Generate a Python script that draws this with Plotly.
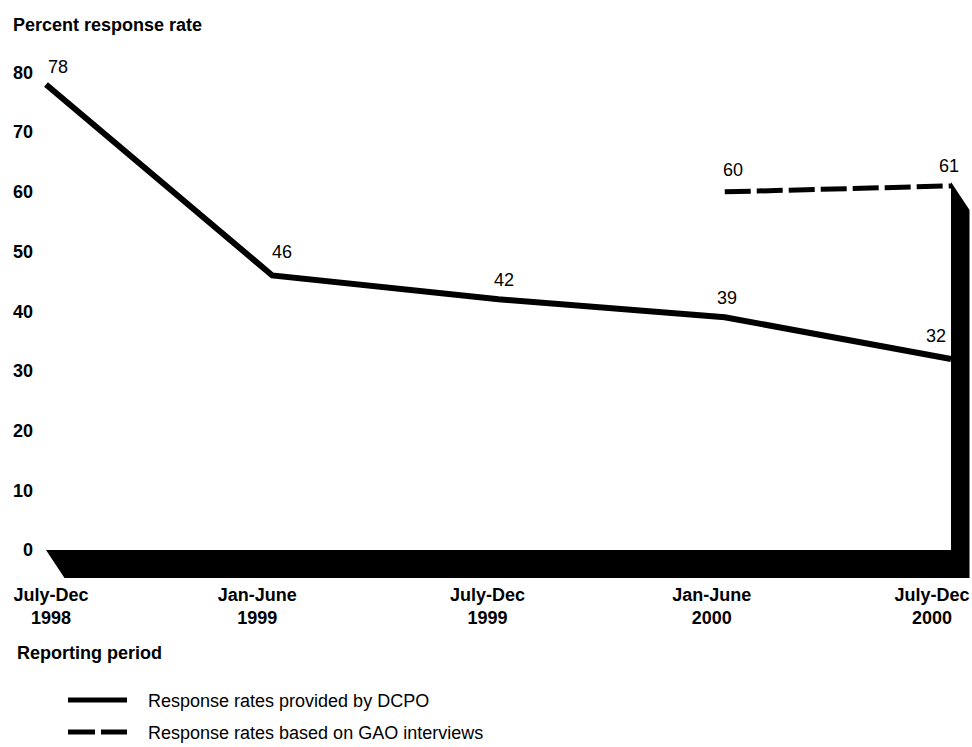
import plotly.graph_objects as go

# ---------------- data ----------------
periods = ["July-Dec<br>1998", "Jan-June<br>1999", "July-Dec<br>1999", "Jan-June<br>2000", "July-Dec<br>2000"]
dcpo_rates = [78, 46, 42, 39, 32]
gao_rates = [None, None, None, 60, 61]
y_ticks = [0, 10, 20, 30, 40, 50, 60, 70, 80]
legend_labels = ["Response rates provided by DCPO", "Response rates based on GAO interviews"]
y_title = "Percent response rate"
x_title = "Reporting period"

# ---------------- geometry / style ----------------
W, H = 972, 747
PL, PR, PT, PB = 40, 972, 60, 578          # plot area in pixels
X0PX, XSTEP = 46, 226.25                   # pixel of first category, spacing
Y0PX, YPER = 550, 5.969                    # pixel of y=0, pixels per unit
FONT = "Liberation Sans, Arial, Helvetica, sans-serif"

x_range = [(PL - X0PX) / XSTEP, (PR - X0PX) / XSTEP]
y_range = [(Y0PX - PB) / YPER, (Y0PX - PT) / YPER]

def px_x(p):  # pixel -> paper x
    return (p - PL) / (PR - PL)

def px_y(p):  # pixel -> paper y
    return (PB - p) / (PB - PT)

xs = list(range(len(periods)))

fig = go.Figure()
fig.add_trace(go.Scatter(x=xs, y=dcpo_rates, mode="lines",
                         line=dict(color="black", width=6),
                         showlegend=False, name=legend_labels[0], hoverinfo="skip"))
fig.add_trace(go.Scatter(x=xs, y=gao_rates, mode="lines",
                         line=dict(color="black", width=5, dash="26px,6px"),
                         showlegend=False, name=legend_labels[1], connectgaps=False,
                         hoverinfo="skip"))

# pseudo-3D floor and right wall
dx = 18.5 / XSTEP
dy = 28 / YPER
wall_top = (Y0PX - 182) / YPER
xl = xs[-1]
path = (f"M 0,0 L {xl},0 L {xl},{wall_top} L {xl+dx},{wall_top-dy} "
        f"L {xl+dx},{-dy} L {dx},{-dy} Z")
shapes = [dict(type="path", path=path, xref="x", yref="y",
               fillcolor="black", line=dict(width=0), layer="above")]

annotations = []
# data labels (offsets in pixels)
dcpo_off = [(12, 17), (10, 23), (5, 19), (2, 19), (-15, 23)]
gao_off = [None, None, None, (8, 22), (-2, 20)]
for i, v in enumerate(dcpo_rates):
    ox, oy = dcpo_off[i]
    annotations.append(dict(x=xs[i], y=v, xref="x", yref="y", text=str(v), showarrow=False,
                            xshift=ox, yshift=oy, font=dict(size=18, color="black", family=FONT)))
for i, v in enumerate(gao_rates):
    if v is None:
        continue
    ox, oy = gao_off[i]
    annotations.append(dict(x=xs[i], y=v, xref="x", yref="y", text=str(v), showarrow=False,
                            xshift=ox, yshift=oy, font=dict(size=18, color="black", family=FONT)))

# axis titles
annotations.append(dict(x=px_x(11), y=px_y(25), xref="paper", yref="paper", text=y_title,
                        showarrow=False, xanchor="left", yanchor="middle",
                        font=dict(size=18, color="black", family=FONT, weight="bold")))
annotations.append(dict(x=px_x(15), y=px_y(653), xref="paper", yref="paper", text=x_title,
                        showarrow=False, xanchor="left", yanchor="middle",
                        font=dict(size=18, color="black", family=FONT, weight="bold")))

# manual legend
leg_y = [700, 732]
for k, lab in enumerate(legend_labels):
    yy = px_y(leg_y[k])
    if k == 0:
        shapes.append(dict(type="line", xref="paper", yref="paper", x0=px_x(68), x1=px_x(127),
                           y0=yy, y1=yy, line=dict(color="black", width=5)))
    else:
        shapes.append(dict(type="line", xref="paper", yref="paper", x0=px_x(68), x1=px_x(95),
                           y0=yy, y1=yy, line=dict(color="black", width=5)))
        shapes.append(dict(type="line", xref="paper", yref="paper", x0=px_x(101), x1=px_x(127),
                           y0=yy, y1=yy, line=dict(color="black", width=5)))
    annotations.append(dict(x=px_x(146), y=px_y(leg_y[k] + 1), xref="paper", yref="paper", text=lab,
                            showarrow=False, xanchor="left", yanchor="middle",
                            font=dict(size=18, color="black", family=FONT)))

# x tick label positions (pixel offsets from category)
xtick_off = [5, -15, -11, -13, -19]
xtickvals = [xs[i] + xtick_off[i] / XSTEP for i in range(len(xs))]

fig.update_layout(
    width=W, height=H,
    margin=dict(l=PL, r=W - PR, t=PT, b=H - PB, pad=0),
    paper_bgcolor="white", plot_bgcolor="white",
    font=dict(family=FONT, color="black", size=18),
    shapes=shapes, annotations=annotations,
    showlegend=False, hovermode=False,
    xaxis=dict(range=x_range, tickvals=xtickvals, ticktext=periods, showgrid=False,
               zeroline=False, showline=False, ticks="", ticklabelstandoff=4,
               tickfont=dict(size=18, family=FONT, color="black", weight="bold")),
    yaxis=dict(range=y_range, tickvals=y_ticks, showgrid=False, zeroline=False,
               showline=False, ticks="", ticklabelstandoff=6,
               tickfont=dict(size=18, family=FONT, color="black", weight="bold")),
)

fig.write_html("out.html", config={"displayModeBar": False},
               post_script="document.body.style.margin='0';document.body.style.overflow='hidden';")
